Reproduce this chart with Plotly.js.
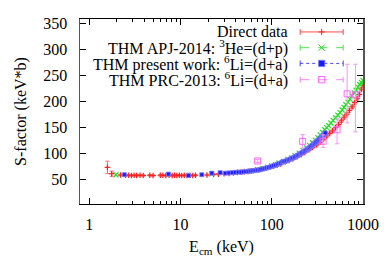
<!DOCTYPE html>
<html><head><meta charset="utf-8">
<script src="https://cdn.plot.ly/plotly-3.0.1.min.js"></script>
<style>html,body{margin:0;padding:0;background:#fff}#chart{width:392px;height:274px}</style>
</head><body><div id="chart"></div>
<script>
// Direct data
const directE = [1.58,1.76,2.2,2.5,2.7,2.9,3.1,3.3,3.6,3.9,4.6,5.0,6.0,6.4,6.9,7.5,8.1,8.6,9.1,9.7,10.3,11.0,11.8,12.7,13.6,14.6,19.5,23,26,30,34,38,42,46,50,55,60,66,72,80,88,96,105,115,125,140,155,170,190,210,230,255,280,310,340,370,400,430,465,500,540,580,620,665,710,760,810,860,910,960,1000];
const directS = [73.6,61.5,59,58.5,58.5,58,58.5,58,58.5,58,58.5,58,58.5,58.5,58,58.5,58,58.5,58,58.5,58,58.5,58,58.5,58,58.5,59,60,60.5,61.5,62,63,64,64.5,65.5,66,67,68,69,71,72.5,74,76,78,80,84,87,90,94,98,102,107,112,117,122,128,134,139,144,150,156,163,170,176,183,190,198,206,214,224,232];
const directErr = [12,5,1.5,1.5,1.5,1.5,1.5,1.5,1.5,1.5,1.5,1.5,1.5,1.5,1.5,1.5,1.5,1.5,1.5,1.5,1.5,1.5,1.5,1.5,1.5,1.5,1.5,1.5,1.5,1.5,1.5,1.5,1.5,1.5,1.5,1.5,1.5,1.5,1.5,1.5,1.5,1.5,2,2,2,2,2,2,2,2,2,2,2,2,2,2,3,3,3,3,3,3,3,3,3,3,3,3,3,3,3];
// THM APJ-2014
const apjE = [1.96,22,60,70,80,90,100,110,120,135,150,165,180,200,220,240,260,280,300,320,340,360,380,400,420,445,470,500,530,560,590,620,650,685,720,760,800,840,880,920,960,1000];
const apjS = [59.5,61,67,69,71.5,74,76.5,79,82,85,89,92,96,101,106,111,116,121,126,131,136,141,146,150,154,159,164,169,174,179,184,189,194,199,205,211,217,222,228,233,237,241];
// THM present work
const presE = [2.42,7.36,12.2,17.1,22,27.2,31,34,37,40,43,46,49,52,55,58,61,64,67,70,73,76,80,84,88,92,96,100,105,110,115,120,125,130,135,140,146,152,158,164,170,177,184,191,198,205,212,220,228,236,244,252,260,268,276,285,294,303,312,321,330,340,350,360,370,380,386];
const presS = [59.5,60.7,58,59.5,62.5,63.5,62.5,63,63.5,64,64.5,64.5,65,65.5,66,66.5,67,67.5,68,68.5,69,70,70.5,71.5,72.5,73.5,74.5,75.5,77,78,79.5,81,82,84,85,85.5,86.5,88,89.5,90.5,92,93,95,96.5,98,100,101.5,103,105,107,108.5,110,112,114,116,118,120,122,124,126,128,130,132,134,136,138,140];
// THM PRC-2013
const prcE = [70,218,365,520,670,826];
const prcS = [86,123.6,124,146,215,213];
const prcErrPlus = [3,13,12,21,57,59];
const prcErrMinus = [3,13,12,27,56,71];

const legendNames = ['Direct data','THM APJ-2014: <sup>3</sup>He=(d+p)','THM present work: <sup>6</sup>Li=(d+a)','THM PRC-2013: <sup>6</sup>Li=(d+a)'];
const colRed='#ff2020', colGreen='#22e022', colBlue='#1a1aff', colPink='#ff66ff';

const traces = [
 {x:directE,y:directS,type:'scatter',mode:'markers',marker:{symbol:'cross-thin',size:4,line:{color:colRed,width:1.2},color:colRed},
  error_y:{type:'data',array:directErr,visible:true,color:'#f07070',thickness:1,width:2}},
 {x:apjE,y:apjS,type:'scatter',mode:'markers',marker:{symbol:'x-thin',size:5,line:{color:colGreen,width:1.2},color:colGreen}},
 {x:presE,y:presS,type:'scatter',mode:'markers',marker:{symbol:'square',size:4,color:colBlue,line:{color:'#8080ff',width:0.8}},
  error_y:{type:'data',array:presS.map(()=>2.5),visible:true,color:'#9090ff',thickness:1,width:2}},
 {x:prcE,y:prcS,type:'scatter',mode:'markers',marker:{symbol:'square-open',size:6,color:colPink,line:{color:colPink,width:1}},
  error_y:{type:'data',array:prcErrPlus,arrayminus:prcErrMinus,visible:true,color:'#ff90ff',thickness:1,width:2}}
];

// legend geometry (paper coords)
const lx0=0.778, lx1=0.930, lxm=0.854, tx=0.743;
const rows=[0.930,0.845,0.760,0.672];
const dashes=['solid','dash','dot','dash'];
const cols=[colRed,colGreen,colBlue,colPink];
const shapes=[]; const annotations=[];
const cap=0.016, mw=0.011, mh=0.017;
rows.forEach((ry,i)=>{
  shapes.push({type:'line',xref:'paper',yref:'paper',x0:lx0,x1:lx1,y0:ry,y1:ry,line:{color:cols[i],width:0.8,dash:dashes[i]}});
  [lx0,lx1].forEach(cx=>shapes.push({type:'line',xref:'paper',yref:'paper',x0:cx,x1:cx,y0:ry-cap,y1:ry+cap,line:{color:cols[i],width:0.8}}));
  annotations.push({xref:'paper',yref:'paper',x:tx,y:ry,xanchor:'right',yanchor:'middle',showarrow:false,text:legendNames[i],font:{family:'Liberation Serif',size:16,color:'#000'}});
});
// legend markers
shapes.push({type:'line',xref:'paper',yref:'paper',x0:lxm-mw,x1:lxm+mw,y0:rows[0],y1:rows[0],line:{color:colRed,width:1}});
shapes.push({type:'line',xref:'paper',yref:'paper',x0:lxm,x1:lxm,y0:rows[0]-mh,y1:rows[0]+mh,line:{color:colRed,width:1}});
shapes.push({type:'line',xref:'paper',yref:'paper',x0:lxm-mw,x1:lxm+mw,y0:rows[1]-mh,y1:rows[1]+mh,line:{color:colGreen,width:1}});
shapes.push({type:'line',xref:'paper',yref:'paper',x0:lxm-mw,x1:lxm+mw,y0:rows[1]+mh,y1:rows[1]-mh,line:{color:colGreen,width:1}});
shapes.push({type:'rect',xref:'paper',yref:'paper',x0:lxm-mw,x1:lxm+mw,y0:rows[2]-mh,y1:rows[2]+mh,fillcolor:colBlue,line:{color:'#8080ff',width:0.8}});
shapes.push({type:'rect',xref:'paper',yref:'paper',x0:lxm-mw,x1:lxm+mw,y0:rows[3]-mh,y1:rows[3]+mh,fillcolor:'rgba(0,0,0,0)',line:{color:colPink,width:1}});

const font={family:'Liberation Serif',size:16,color:'#000'};
const layout={
  width:392,height:274,margin:{l:80,r:29,t:19,b:70},
  paper_bgcolor:'#fff',plot_bgcolor:'#fff',showlegend:false,font:font,
  xaxis:{type:'log',range:[-0.102,3.0],tickvals:[1,10,100,1000],ticktext:['1','10','100','1000'],
    ticks:'inside',ticklen:6,tickcolor:'#000',showline:true,linecolor:'#000',linewidth:1,mirror:'allticks',
    showgrid:false,zeroline:false,tickfont:font,ticklabelstandoff:6,
    minor:{ticks:'inside',ticklen:3,tickcolor:'#000',tickvals:[2,3,4,5,6,7,8,9,20,30,40,50,60,70,80,90,200,300,400,500,600,700,800,900],showgrid:false},
    title:{text:'E<sub>cm</sub> (keV)',font:font,standoff:8}},
  yaxis:{range:[3.2,359],tickvals:[50,100,150,200,250,300,350],ticks:'inside',ticklen:6,tickcolor:'#000',
    showline:true,linecolor:'#555',linewidth:1.5,mirror:'allticks',showgrid:false,zeroline:false,tickfont:font,ticklabelstandoff:8,
    title:{text:'S-factor (keV*b)',font:font,standoff:12}},
  shapes:shapes,annotations:annotations
};
Plotly.newPlot('chart',traces,layout,{staticPlot:true,displayModeBar:false});
</script></body></html>
